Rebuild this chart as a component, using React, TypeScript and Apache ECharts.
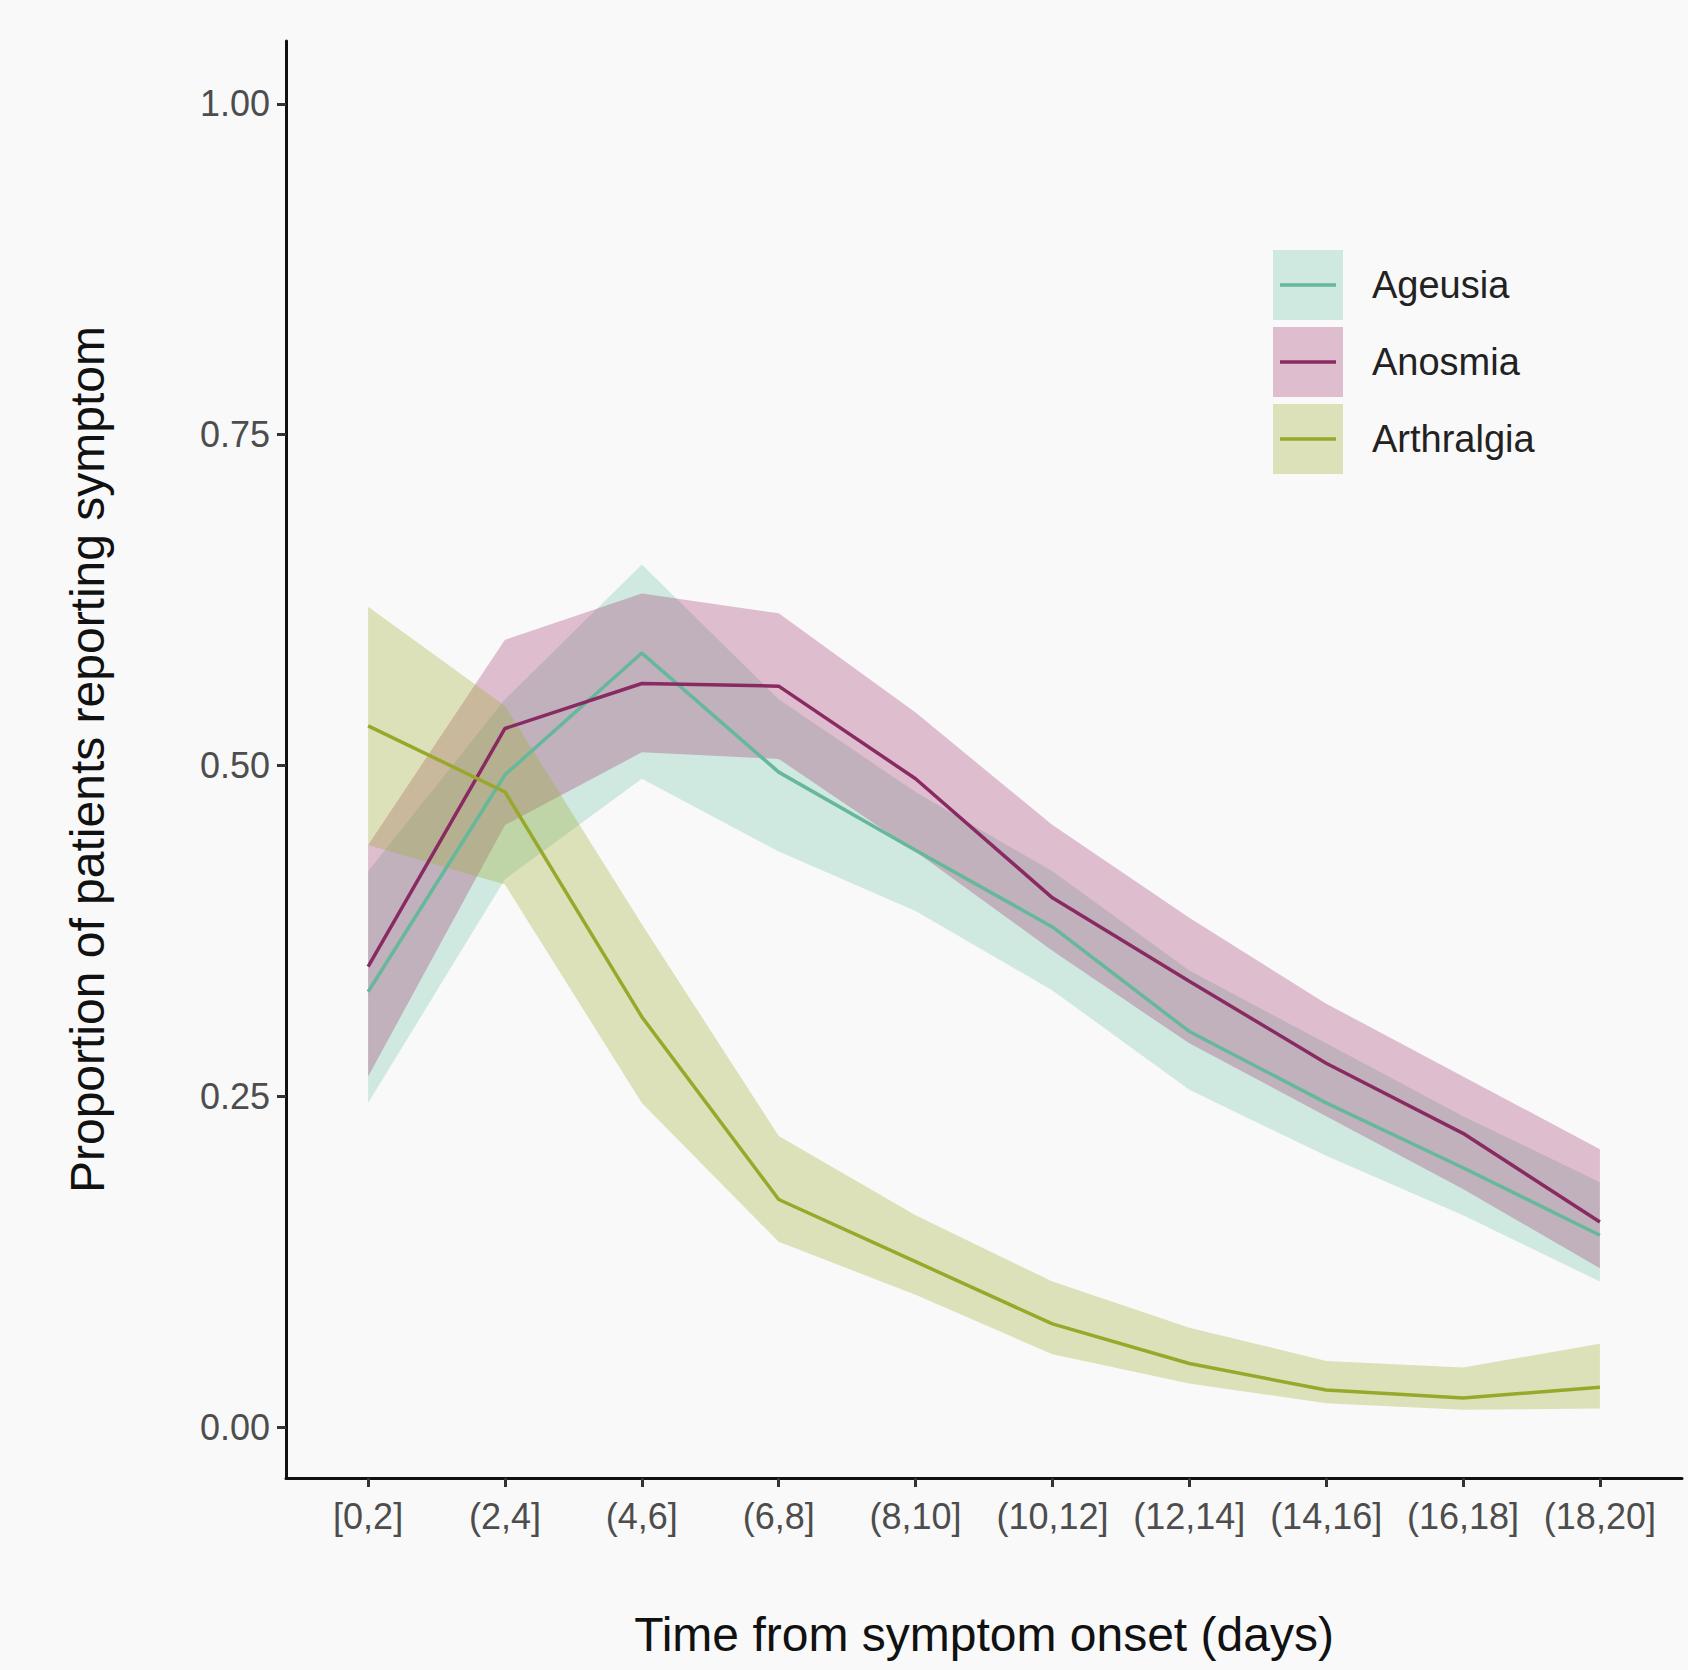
import React, { useEffect, useRef } from 'react';
import * as echarts from 'echarts';

const categories = ['[0,2]', '(2,4]', '(4,6]', '(6,8]', '(8,10]', '(10,12]', '(12,14]', '(14,16]', '(16,18]', '(18,20]'];
const yTicks = [0, 0.25, 0.5, 0.75, 1];

const ageusia = [0.329, 0.493, 0.585, 0.495, 0.436, 0.378, 0.299, 0.245, 0.196, 0.145];
const ageusiaLow = [0.245, 0.414, 0.49, 0.435, 0.39, 0.33, 0.255, 0.205, 0.16, 0.11];
const ageusiaHigh = [0.42, 0.55, 0.652, 0.55, 0.48, 0.42, 0.345, 0.29, 0.235, 0.185];

const anosmia = [0.348, 0.528, 0.562, 0.56, 0.49, 0.4, 0.337, 0.275, 0.222, 0.155];
const anosmiaLow = [0.265, 0.455, 0.51, 0.505, 0.435, 0.36, 0.29, 0.235, 0.18, 0.12];
const anosmiaHigh = [0.44, 0.595, 0.63, 0.615, 0.54, 0.455, 0.385, 0.32, 0.265, 0.21];

const arthralgia = [0.53, 0.48, 0.31, 0.172, 0.125, 0.078, 0.048, 0.028, 0.022, 0.03];
const arthralgiaLow = [0.44, 0.41, 0.245, 0.14, 0.1, 0.055, 0.033, 0.018, 0.013, 0.014];
const arthralgiaHigh = [0.62, 0.545, 0.38, 0.22, 0.16, 0.11, 0.075, 0.05, 0.045, 0.063];

const symptoms = [
  { name: 'Ageusia', mid: ageusia, low: ageusiaLow, high: ageusiaHigh, line: '#66b89b', fill: 'rgba(102,190,160,0.28)' },
  { name: 'Anosmia', mid: anosmia, low: anosmiaLow, high: anosmiaHigh, line: '#8a2a62', fill: 'rgba(160,50,110,0.3)' },
  { name: 'Arthralgia', mid: arthralgia, low: arthralgiaLow, high: arthralgiaHigh, line: '#98a82a', fill: 'rgba(160,175,50,0.32)' },
];

const FONT = '"Liberation Sans", Arial, sans-serif';

const App = () => {
  const chartRef = useRef(null);

  useEffect(() => {
    document.body.style.margin = '0';
    if (!chartRef.current) return;
    const chart = echarts.init(chartRef.current, null, { renderer: 'svg' });

    const bands: any[] = symptoms.map((s) => ({
      type: 'custom',
      silent: true,
      data: [0],
      renderItem: (_params: any, api: any) => {
        const upper = s.high.map((v, i) => api.coord([i, v]));
        const lower = s.low.map((v, i) => api.coord([i, v])).reverse();
        return { type: 'polygon', shape: { points: [...upper, ...lower] }, style: { fill: s.fill } };
      },
    }));
    const lines: any[] = symptoms.map((s) => ({
      type: 'line', name: s.name, symbol: 'none',
      lineStyle: { color: s.line, width: 3.5 },
      data: s.mid.map((v, i) => [i, v]),
    }));

    const legendGraphics: any[] = [];
    symptoms.forEach((s, i) => {
      const y = 250 + i * 77;
      legendGraphics.push({ type: 'rect', shape: { x: 1273, y, width: 70, height: 70 }, style: { fill: s.fill } });
      legendGraphics.push({ type: 'line', shape: { x1: 1280, y1: y + 35, x2: 1336, y2: y + 35 }, style: { stroke: s.line, lineWidth: 3.5 } });
      legendGraphics.push({ type: 'text', x: 1372, y: y + 35, style: { text: s.name, font: '38px ' + FONT, fill: '#222', verticalAlign: 'middle' } });
    });

    chart.setOption({
      animation: false,
      backgroundColor: '#f9f9f9',
      grid: { left: 286, right: 6, top: 41, bottom: 192 },
      xAxis: {
        type: 'value', min: -0.6, max: 9.6,
        name: 'Time from symptom onset (days)', nameLocation: 'middle', nameGap: 132,
        nameTextStyle: { fontSize: 48, color: '#111', fontFamily: FONT },
        axisLine: { show: true, onZero: false, lineStyle: { color: '#111', width: 3 } },
        axisTick: { show: true, customValues: categories.map((_, i) => i), length: 9, lineStyle: { color: '#333', width: 3 } },
        axisLabel: {
          customValues: categories.map((_, i) => i),
          formatter: (v: number) => categories[Math.round(v)] ?? '',
          fontSize: 36, color: '#4d4d4d', margin: 20, fontFamily: FONT,
        },
        splitLine: { show: false },
      },
      yAxis: {
        type: 'value', min: -0.0385, max: 1.0476,
        name: 'Proportion of patients reporting symptom', nameLocation: 'middle', nameGap: 175,
        nameTextStyle: { fontSize: 48, color: '#111', fontFamily: FONT },
        axisLine: { show: true, onZero: false, lineStyle: { color: '#111', width: 3 } },
        axisTick: { show: true, customValues: yTicks, length: 9, lineStyle: { color: '#333', width: 3 } },
        axisLabel: {
          customValues: yTicks,
          formatter: (v: number) => v.toFixed(2),
          fontSize: 36, color: '#4d4d4d', margin: 16, fontFamily: FONT,
        },
        splitLine: { show: false },
      },
      graphic: legendGraphics,
      series: [...bands, ...lines],
    });

    return () => chart.dispose();
  }, []);

  return <div ref={chartRef} style={{ width: '1688px', height: '1670px' }} />;
};

export default App;
